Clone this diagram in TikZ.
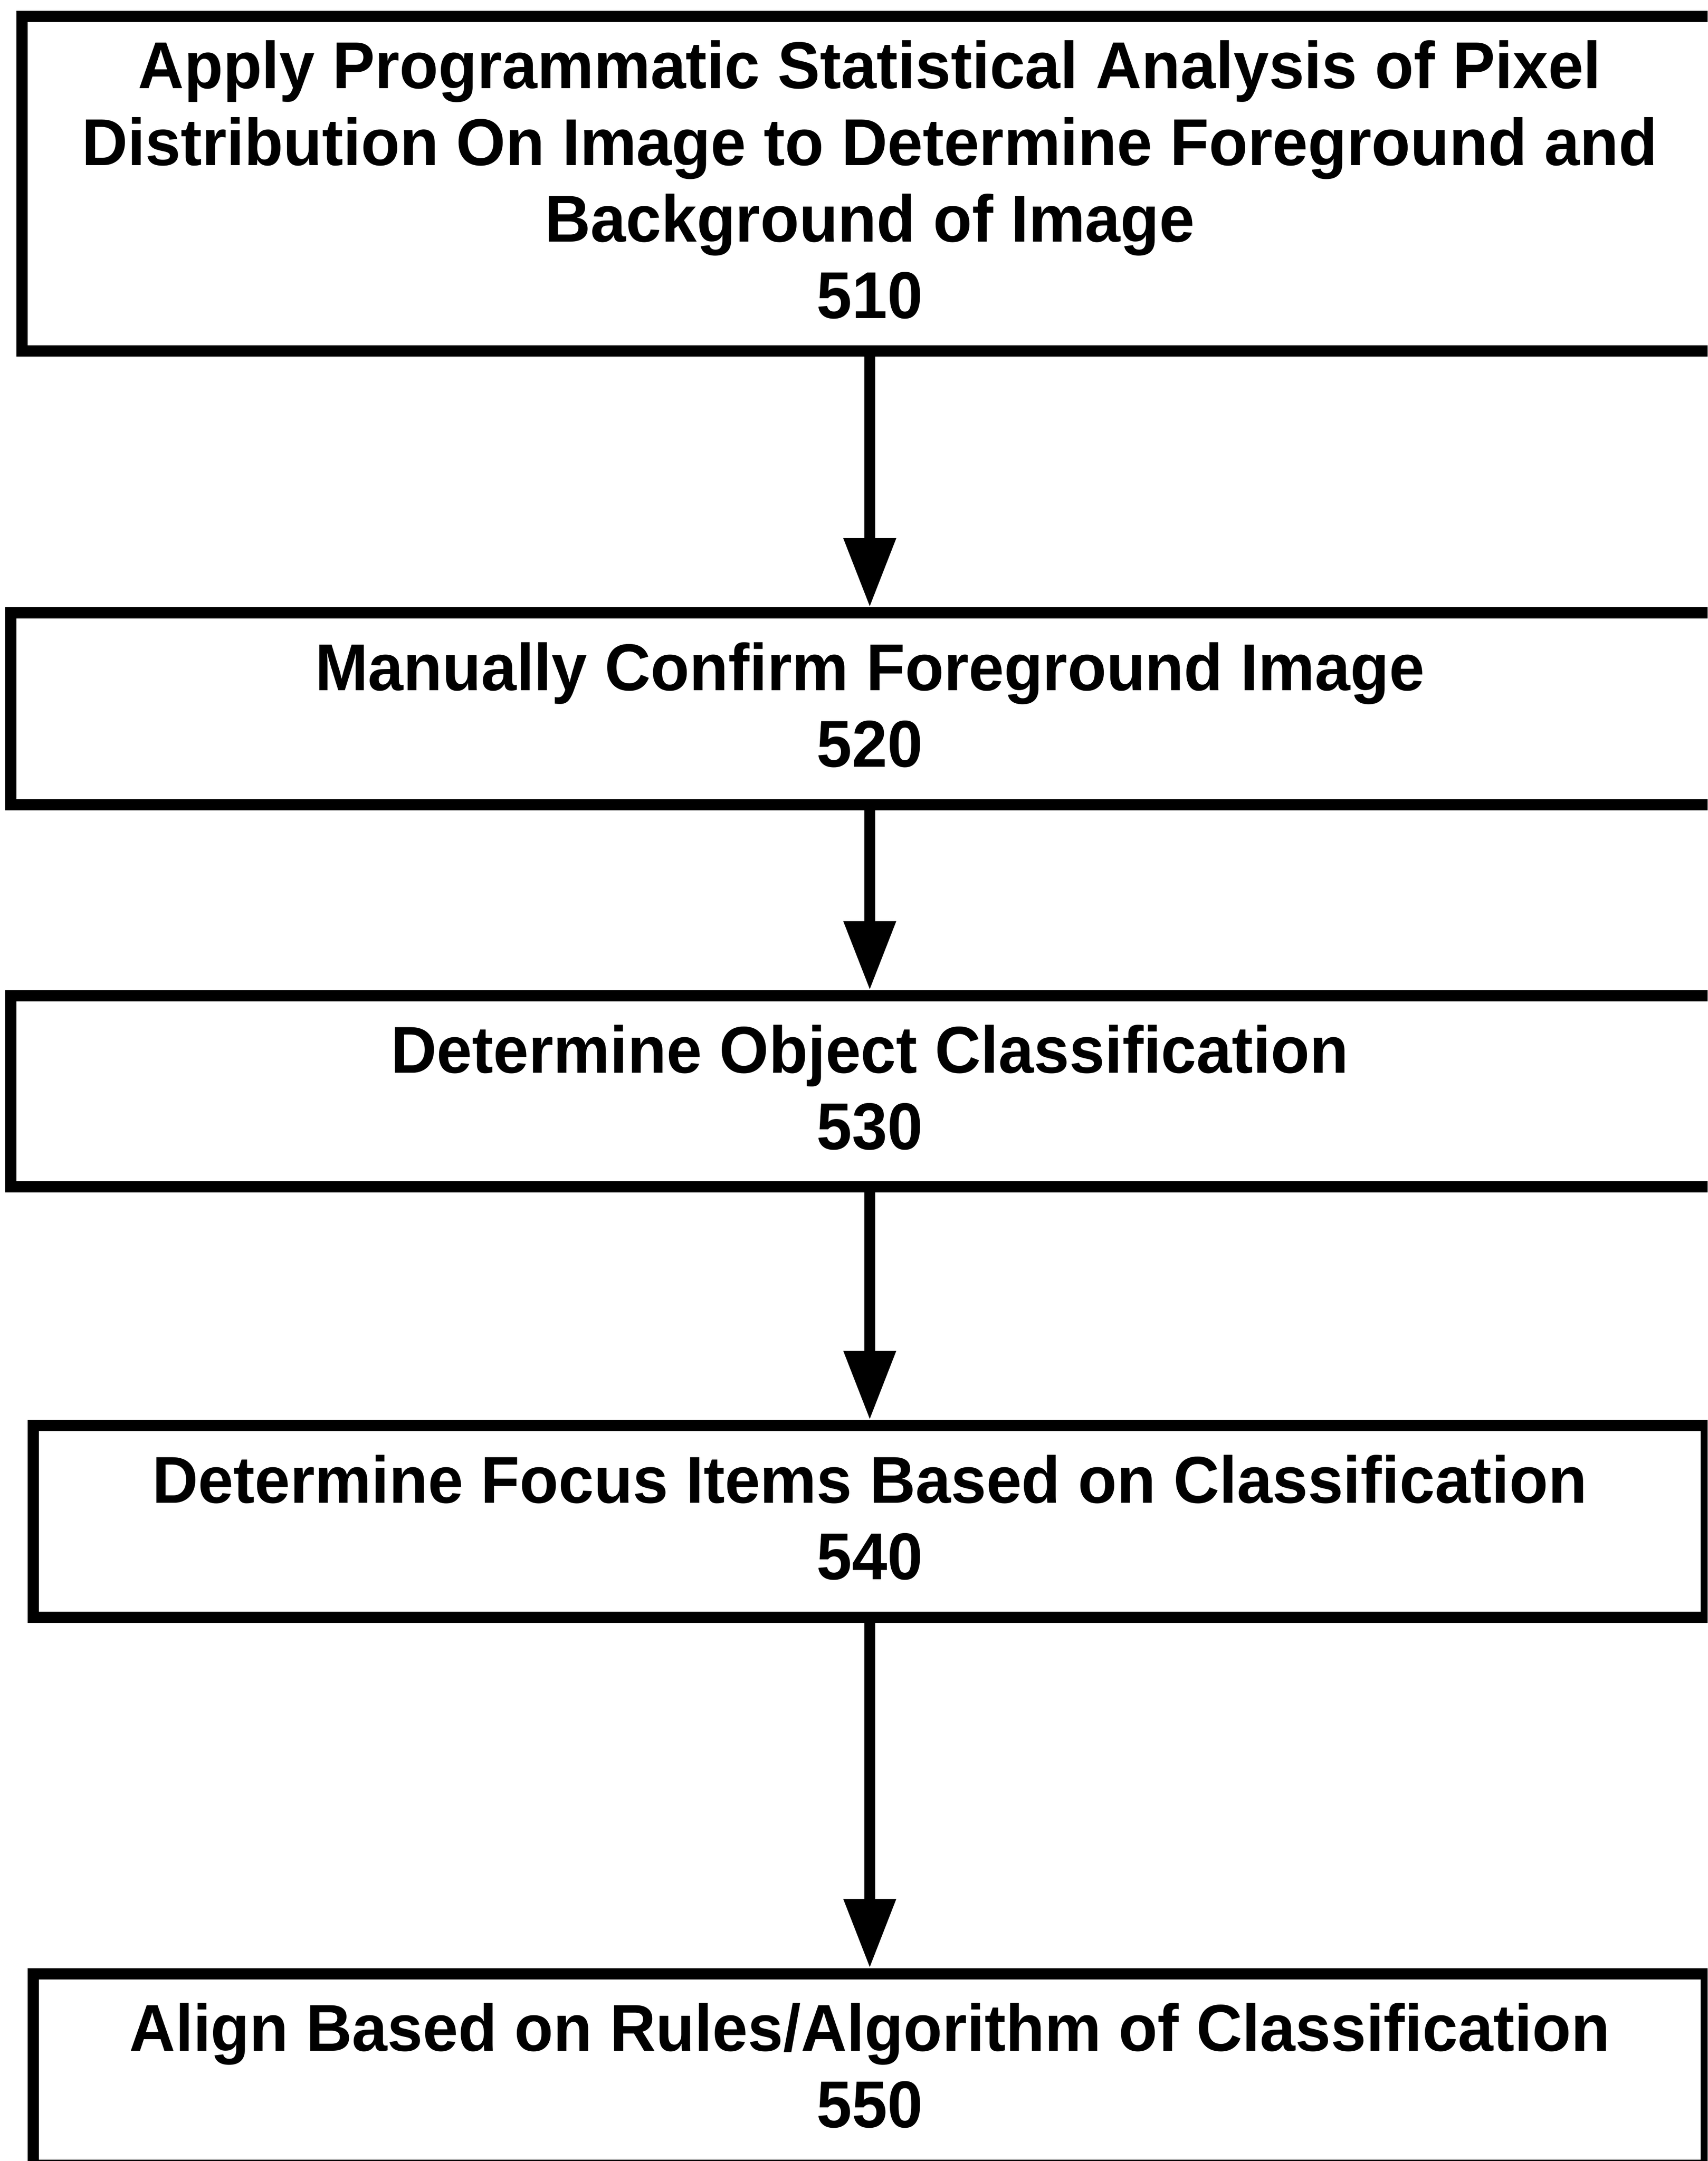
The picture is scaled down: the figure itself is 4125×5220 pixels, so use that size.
\documentclass[tikz,border=0pt]{standalone}
\usepackage{fontspec}
\setmainfont{Liberation Sans}[FakeStretch=0.96]
\usetikzlibrary{arrows.meta}
\begin{document}
\begin{tikzpicture}[x=1pt,y=-1pt,
  stepbox/.style={draw=black, line width=27pt, rectangle, inner sep=0pt,
    align=center, fill=white, text depth=20pt,
    font=\fontsize{160}{185}\selectfont\bfseries},
  flow/.style={line width=27pt, -{Triangle[width=120pt,length=167pt]}}]
\useasboundingbox (0,0) rectangle (4125,5220);
\clip (0,0) rectangle (4125,5220);
\node[stepbox, minimum width=4095pt, minimum height=808pt] (b510) at (2101,443.5)
  {Apply Programmatic Statistical Analysis of Pixel\\Distribution On Image to Determine Foreground and\\Background of Image\\510};
\node[stepbox, minimum width=4149pt, minimum height=463pt] (b520) at (2101,1712)
  {Manually Confirm Foreground Image\\520};
\node[stepbox, minimum width=4149pt, minimum height=461pt] (b530) at (2101,2636)
  {Determine Object Classification\\530};
\node[stepbox, minimum width=4041pt, minimum height=463pt] (b540) at (2101,3675)
  {Determine Focus Items Based on Classification\\540};
\node[stepbox, minimum width=4041pt, minimum height=463pt] (b550) at (2101,4999)
  {Align Based on Rules/Algorithm of Classification\\550};
\draw[flow] (b510) -- (b520);
\draw[flow] (b520) -- (b530);
\draw[flow] (b530) -- (b540);
\draw[flow] (b540) -- (b550);
\end{tikzpicture}
\end{document}
